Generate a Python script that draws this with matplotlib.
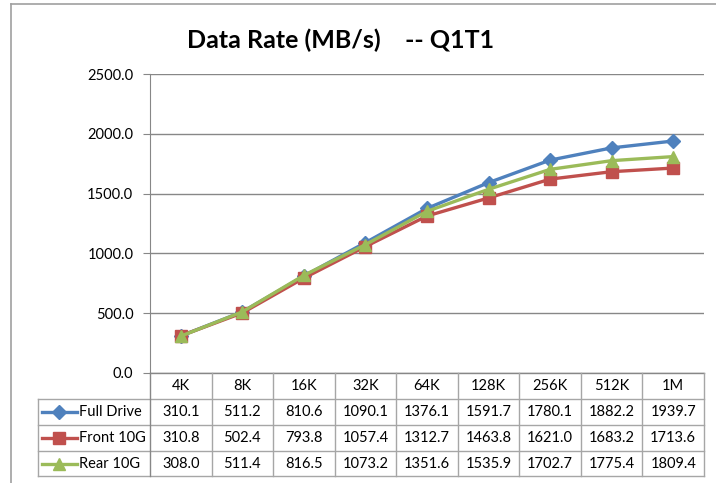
"""Data rate (MB/s) -- Q1T1, line chart with data table underneath."""

import matplotlib
matplotlib.use("Agg")
import matplotlib.pyplot as plt
import matplotlib as mpl
from matplotlib.lines import Line2D

mpl.rcParams.update({
    "font.family": ["Lato", "DejaVu Sans"],
    "font.size": 10,
})

categories = ["4K", "8K", "16K", "32K", "64K", "128K", "256K", "512K", "1M"]
full_drive = [310.1, 511.2, 810.6, 1090.1, 1376.1, 1591.7, 1780.1, 1882.2, 1939.7]
front_10g = [310.8, 502.4, 793.8, 1057.4, 1312.7, 1463.8, 1621.0, 1683.2, 1713.6]
rear_10g = [308.0, 511.4, 816.5, 1073.2, 1351.6, 1535.9, 1702.7, 1775.4, 1809.4]
series_names = ["Full Drive", "Front 10G", "Rear 10G"]
yticks = [0, 500, 1000, 1500, 2000, 2500]

colors = ["#4F81BD", "#C0504D", "#9BBB59"]
markers = ["D", "s", "^"]
msizes = [7, 9, 9]
grid_c = "#878787"
table_c = "#A6A6A6"

W, H = 716, 483
fig = plt.figure(figsize=(W / 100, H / 100), dpi=100)

# plot area in pixels
L, R, T, B = 150, 704, 74, 373
ax = fig.add_axes([L / W, 1 - B / H, (R - L) / W, (B - T) / H])

n = len(categories)
xs = [i + 0.5 for i in range(n)]
all_series = [full_drive, front_10g, rear_10g]
for vals, c, m, ms, name in zip(all_series, colors, markers, msizes, series_names):
    ax.plot(xs, vals, color=c, lw=2.4, marker=m, ms=ms, mec=c, label=name,
            solid_joinstyle="round", zorder=3)

ax.set_xlim(0, n)
ax.set_ylim(0, 2500)
ax.set_yticks(yticks)
ax.set_yticklabels([f"{v:.1f}" for v in yticks])
ax.set_xticks([])
ax.tick_params(axis="y", length=5, color=grid_c, labelsize=10.5, pad=7)
ax.yaxis.grid(True, color=grid_c, lw=1)
ax.set_axisbelow(True)
for s in ("top", "right", "bottom"):
    ax.spines[s].set_visible(False)
ax.spines["left"].set_color(grid_c)

# overlay in pixel coords for table, title and frame
ov = fig.add_axes([0, 0, 1, 1], zorder=-1)
ov.set_xlim(0, W)
ov.set_ylim(H, 0)
ov.axis("off")
ov2 = fig.add_axes([0, 0, 1, 1])
ov2.set_xlim(0, W)
ov2.set_ylim(H, 0)
ov2.axis("off")
ov2.patch.set_alpha(0)

# outer chart frame
ov.plot([11, 11], [4, H], color="#A0A0A0", lw=1.2)
ov.plot([11, W], [4, 4], color="#A0A0A0", lw=1.2)

ov2.text(341, 40, "Data Rate (MB/s)    -- Q1T1", ha="center", va="center",
         fontsize=18, fontweight="bold")

# data table
row_y = [373, 399, 425, 451, 476]
colw = (R - L) / n
col_x = [L + i * colw for i in range(n + 1)]
tl = 38
for y in row_y[1:]:
    ov2.plot([tl, R], [y, y], color=table_c, lw=1)
ov2.plot([L, R], [row_y[0], row_y[0]], color=grid_c, lw=1)
for x in col_x:
    ov2.plot([x, x], [row_y[0], row_y[-1]], color=table_c if x != L else grid_c, lw=1)
ov2.plot([tl, tl], [row_y[1], row_y[-1]], color=table_c, lw=1)

for i, cat in enumerate(categories):
    cx = col_x[i] + colw / 2
    ov2.text(cx, (row_y[0] + row_y[1]) / 2, cat, ha="center", va="center", fontsize=10.5)
    for r, vals in enumerate(all_series):
        ov2.text(cx, (row_y[r + 1] + row_y[r + 2]) / 2, f"{vals[i]:.1f}",
                 ha="center", va="center", fontsize=10.5)

for r, (name, c, m, ms) in enumerate(zip(series_names, colors, markers, msizes)):
    yc = (row_y[r + 1] + row_y[r + 2]) / 2
    ov2.add_line(Line2D([42, 77], [yc, yc], color=c, lw=2.4))
    ov2.add_line(Line2D([59], [yc], color=c, marker=m, ms=ms, mec=c))
    ov2.text(79, yc, name, ha="left", va="center", fontsize=10.5)

fig.savefig("out.png", dpi=100)
